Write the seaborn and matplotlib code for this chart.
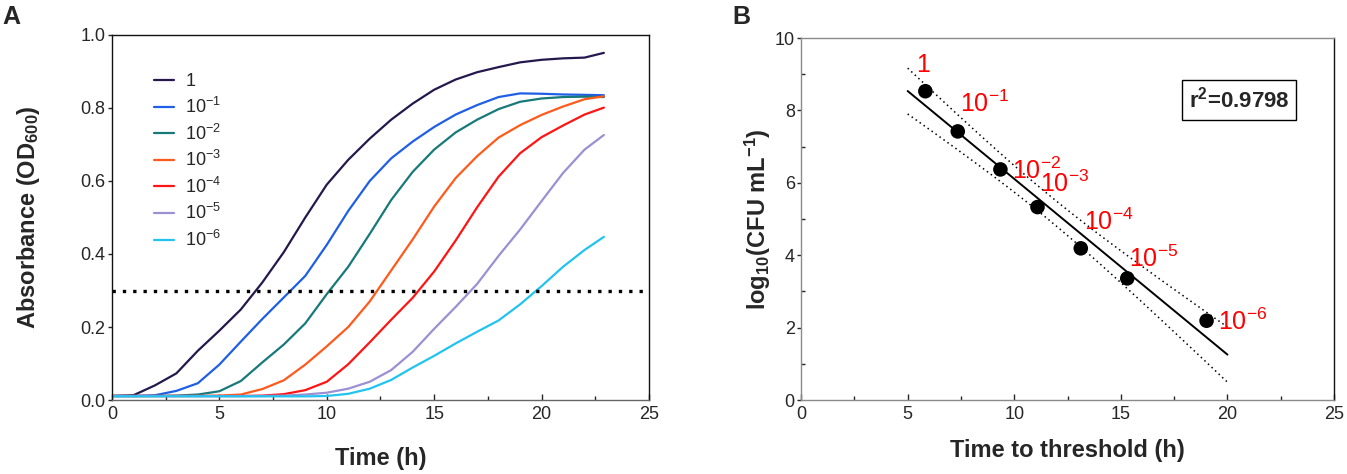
import numpy as np
import pandas as pd
import seaborn as sns
import matplotlib.pyplot as plt
from matplotlib.ticker import MultipleLocator

# ---- panel A: growth curves (OD600, 1 h steps)
time_h = [0, 1, 2, 3, 4, 5, 6, 7, 8, 9, 10, 11, 12, 13, 14, 15, 16, 17, 18, 19, 20, 21, 22, 22.9]
dilutions = ['1', '10$^{-1}$', '10$^{-2}$', '10$^{-3}$', '10$^{-4}$', '10$^{-5}$', '10$^{-6}$']
od_1 = [0.011, 0.013, 0.040, 0.073, 0.135, 0.190, 0.248, 0.322, 0.405, 0.500, 0.590, 0.658,
        0.716, 0.768, 0.812, 0.850, 0.878, 0.898, 0.912, 0.925, 0.932, 0.936, 0.938, 0.951]
od_1e1 = [0.011, 0.011, 0.013, 0.025, 0.046, 0.097, 0.160, 0.222, 0.281, 0.340, 0.425, 0.518,
          0.600, 0.662, 0.708, 0.748, 0.782, 0.808, 0.830, 0.840, 0.839, 0.837, 0.836, 0.835]
od_1e2 = [0.011, 0.011, 0.011, 0.012, 0.015, 0.024, 0.052, 0.103, 0.152, 0.210, 0.290, 0.365,
          0.455, 0.548, 0.625, 0.686, 0.733, 0.768, 0.797, 0.817, 0.826, 0.830, 0.831, 0.830]
od_1e3 = [0.011, 0.011, 0.011, 0.011, 0.011, 0.012, 0.015, 0.030, 0.054, 0.097, 0.147, 0.200,
          0.270, 0.355, 0.440, 0.530, 0.608, 0.668, 0.719, 0.753, 0.781, 0.804, 0.824, 0.832]
od_1e4 = [0.011, 0.011, 0.011, 0.011, 0.011, 0.011, 0.011, 0.012, 0.016, 0.027, 0.050, 0.098,
          0.158, 0.220, 0.280, 0.352, 0.437, 0.528, 0.612, 0.676, 0.720, 0.752, 0.782, 0.801]
od_1e5 = [0.011, 0.011, 0.011, 0.011, 0.011, 0.011, 0.011, 0.011, 0.012, 0.015, 0.020, 0.031,
          0.050, 0.082, 0.132, 0.195, 0.255, 0.318, 0.395, 0.467, 0.545, 0.622, 0.686, 0.726]
od_1e6 = [0.010, 0.010, 0.010, 0.010, 0.010, 0.010, 0.010, 0.010, 0.010, 0.010, 0.011, 0.017,
          0.031, 0.055, 0.089, 0.121, 0.155, 0.187, 0.218, 0.262, 0.312, 0.365, 0.411, 0.447]
threshold = 0.3

# ---- panel B: time to threshold vs log10 CFU
ttt_h = [5.83, 7.35, 9.35, 11.09, 13.12, 15.30, 19.02]
log_cfu = [8.53, 7.42, 6.37, 5.33, 4.19, 3.36, 2.19]
r2_text = 'r$^{2}$=0.9798'
t_crit = 2.571  # t(0.975, df=5)

curve_colors = ['#24184d', '#1f5fe6', '#17797a', '#ff5a1c', '#ff1414', '#9c8fd2', '#22c3f0']
label_offsets = [(-0.42, 0.53), (0.11, 0.53), (0.54, -0.26), (0.13, 0.41),
                 (0.13, 0.51), (0.09, 0.31), (0.54, -0.25)]

sns.set_theme(style='ticks')
plt.rcParams['font.family'] = ['Liberation Sans', 'DejaVu Sans']
plt.rcParams['mathtext.fontset'] = 'custom'
plt.rcParams['mathtext.rm'] = 'Liberation Sans'
plt.rcParams['mathtext.default'] = 'regular'

fig = plt.figure(figsize=(13.47, 4.74), dpi=100)
axA = fig.add_axes([0.0831, 0.1561, 0.3987, 0.7701])
axB = fig.add_axes([0.5947, 0.1561, 0.3957, 0.7637])

# ---------------- panel A
series = [od_1, od_1e1, od_1e2, od_1e3, od_1e4, od_1e5, od_1e6]
df = pd.DataFrame({
    'time': np.tile(time_h, len(dilutions)),
    'od': np.concatenate(series),
    'dilution': np.repeat(dilutions, len(time_h)),
})
sns.lineplot(data=df, x='time', y='od', hue='dilution', hue_order=dilutions,
             palette=curve_colors, linewidth=1.6, ax=axA)
axA.axhline(threshold, color='black', linewidth=2.4, linestyle=(0, (1, 2.1)))
axA.set_xlim(0, 25)
axA.set_ylim(0, 1.0)
axA.xaxis.set_major_locator(MultipleLocator(5))
axA.xaxis.set_minor_locator(MultipleLocator(2.5))
axA.yaxis.set_major_locator(MultipleLocator(0.2))
axA.yaxis.set_major_formatter(plt.FormatStrFormatter('%.1f'))
axA.tick_params(axis='x', which='major', direction='in', length=4, width=1, pad=4, labelsize=13)
axA.tick_params(axis='x', which='minor', direction='in', length=3, width=1)
axA.tick_params(axis='y', which='major', direction='out', length=3, width=1, pad=1.5, labelsize=13)
for side in ['left', 'right', 'top', 'bottom']:
    axA.spines[side].set_visible(True)
    axA.spines[side].set_linewidth(1.0)
    axA.spines[side].set_color('#111111')
axA.spines['bottom'].set_color('#666666')
axA.set_xlabel('Time (h)', fontsize=17, fontweight='bold')
axA.set_ylabel('Absorbance (OD$_{600}$)', fontsize=17, fontweight='bold')
axA.xaxis.set_label_coords(0.5, -0.129)
axA.yaxis.set_label_coords(-0.130, 0.5)
sns.move_legend(axA, 'upper left', bbox_to_anchor=(0.078, 0.895), frameon=False, title=None,
                fontsize=13, handlelength=1.1, handletextpad=0.65, labelspacing=0.36,
                borderpad=0, borderaxespad=0)

# ---------------- panel B
x = np.array(ttt_h)
y = np.array(log_cfu)
slope, intercept = np.polyfit(x, y, 1)
resid = y - (slope * x + intercept)
s = np.sqrt(np.sum(resid ** 2) / (len(x) - 2))
sxx = np.sum((x - x.mean()) ** 2)
xf = np.linspace(5, 20, 100)
yf = slope * xf + intercept
half = t_crit * s * np.sqrt(1 / len(x) + (xf - x.mean()) ** 2 / sxx)

sns.lineplot(x=xf, y=yf, color='black', linewidth=1.4, ax=axB)
sns.lineplot(x=xf, y=yf + half, color='black', linewidth=1.1, linestyle=(0, (1, 2.2)), ax=axB)
sns.lineplot(x=xf, y=yf - half, color='black', linewidth=1.1, linestyle=(0, (1, 2.2)), ax=axB)
sns.scatterplot(x=ttt_h, y=log_cfu, color='black', s=110, edgecolor='none', zorder=5, ax=axB)
for xi, yi, lab, (dx, dy) in zip(ttt_h, log_cfu, dilutions, label_offsets):
    axB.text(xi + dx, yi + dy, lab, color='#ff0000', fontsize=18, ha='left', va='baseline')
axB.text(0.822, 0.829, r2_text, transform=axB.transAxes, ha='center', va='center',
         fontsize=16, fontweight='bold',
         bbox=dict(boxstyle='square,pad=0.3', facecolor='white', edgecolor='black', linewidth=1.0))
axB.set_xlim(0, 25)
axB.set_ylim(0, 10)
axB.xaxis.set_major_locator(MultipleLocator(5))
axB.xaxis.set_minor_locator(MultipleLocator(2.5))
axB.yaxis.set_major_locator(MultipleLocator(2))
axB.yaxis.set_minor_locator(MultipleLocator(1))
axB.tick_params(axis='x', which='major', direction='in', length=4, width=1, pad=4, labelsize=13)
axB.tick_params(axis='x', which='minor', direction='in', length=3, width=1)
axB.tick_params(axis='y', which='major', direction='out', length=3, width=1, pad=1.5, labelsize=13)
axB.tick_params(axis='y', which='minor', direction='in', length=3, width=1)
for side in ['left', 'right', 'top', 'bottom']:
    axB.spines[side].set_visible(True)
    axB.spines[side].set_linewidth(1.0)
    axB.spines[side].set_color('#8a8a8a')
axB.spines['right'].set_color('#111111')
axB.set_xlabel('Time to threshold (h)', fontsize=17, fontweight='bold')
axB.set_ylabel('log$_{10}$(CFU mL$^{-1}$)', fontsize=17, fontweight='bold')
axB.xaxis.set_label_coords(0.5, -0.108)
axB.yaxis.set_label_coords(-0.0525, 0.5)

fig.text(0.0015, 0.965, 'A', fontsize=18, fontweight='bold', ha='left', va='center')
fig.text(0.5435, 0.965, 'B', fontsize=18, fontweight='bold', ha='left', va='center')

fig.savefig('out.png', dpi=100)
